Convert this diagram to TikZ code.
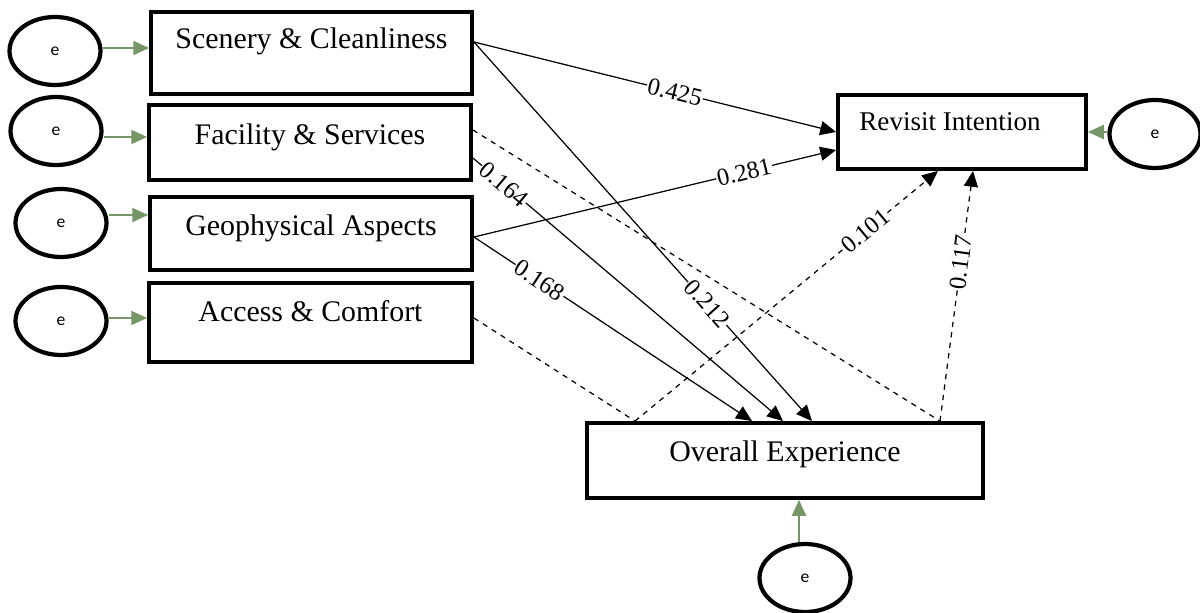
\documentclass[tikz,border=0pt]{standalone}
\usepackage{fontspec}
\setmainfont{Liberation Serif}
\newfontfamily\efont{Carlito}
\usetikzlibrary{arrows.meta,shapes.geometric,calc}
\definecolor{errgreen}{RGB}{118,150,104}
\begin{document}
\begin{tikzpicture}[
	box/.style={draw=black, line width=2.2pt, rectangle, inner sep=0pt, text height=12pt, text depth=#1, font=\fontsize{17}{20}\selectfont},
	err/.style={draw=black, line width=2.4pt, ellipse, minimum width=1.82cm, minimum height=1.36cm, inner sep=0pt, font=\efont\fontsize{10}{11}\selectfont},
	errarrow/.style={draw=errgreen, line width=1pt, -{Triangle[length=9pt,width=8pt]}},
	path/.style={draw=black, line width=0.7pt, -{Triangle[length=9pt,width=8pt]}},
	nspath/.style={draw=black, line width=0.7pt, dashed},
	coef/.style={sloped, fill=white, inner sep=0.5pt, font=\fontsize{14}{15}\selectfont}
	]
	\useasboundingbox (0,0) rectangle (24,12.24);
	\node[box=16.8pt, minimum width=6.42cm, minimum height=1.64cm] (scen) at (6.23,11.18) {Scenery \& Cleanliness};
	\node[box=9.4pt, minimum width=6.44cm, minimum height=1.50cm] (fac) at (6.20,9.39) {Facility \& Services};
	\node[box=9.4pt, minimum width=6.44cm, minimum height=1.46cm] (geo) at (6.22,7.57) {Geophysical Aspects};
	\node[box=12.8pt, minimum width=6.46cm, minimum height=1.58cm] (acc) at (6.21,5.79) {Access \& Comfort};
	\node[box=13.4pt, minimum width=4.96cm, minimum height=1.48cm, font=\fontsize{15.4}{17}\selectfont] (rev) at (19.24,9.60) {\hspace{-0.48cm}Revisit Intention};
	\node[box=11pt, minimum width=7.92cm, minimum height=1.50cm] (over) at (15.70,3.03) {Overall Experience};
	\node[err] (e1) at (1.10,11.22) {e};
	\node[err] (e2) at (1.12,9.62) {e};
	\node[err] (e3) at (1.22,7.78) {e};
	\node[err] (e4) at (1.22,5.82) {e};
	\node[err] (e5) at (23.10,9.56) {e};
	\node[err] (e6) at (16.10,0.68) {e};
	\draw[errarrow] ([yshift=0.06cm]e1.east) -- ([yshift=0.06cm]scen.west |- e1.east);
	\draw[errarrow] ([yshift=-0.12cm]e2.east) -- ([yshift=-0.12cm]fac.west |- e2.east);
	\draw[errarrow] ([yshift=0.16cm]e3.east) -- ([yshift=0.16cm]geo.west |- e3.east);
	\draw[errarrow] ([yshift=0.06cm]e4.east) -- ([yshift=0.06cm]acc.west |- e4.east);
	\draw[errarrow] ([yshift=0.04cm]e5.west) -- ([yshift=0.04cm]rev.east |- e5.west);
	\draw[errarrow] ([xshift=-0.12cm]e6.north) -- ([xshift=-0.12cm]over.south -| e6.north);
	\draw[path] ([yshift=0.22cm]scen.east) -- node[coef, pos=0.555] {0.425} (rev.west);
	\draw[path] ([yshift=-0.07cm]geo.east) -- node[coef, pos=0.746] {0.281} ([yshift=-0.36cm]rev.west);
	\draw[path] ([yshift=-0.31cm]fac.east) -- node[coef, pos=0.10] {0.164} ([xshift=-0.04cm]over.north);
	\draw[path] ([yshift=-0.07cm]geo.east) -- node[coef, pos=0.236] {0.168} ([xshift=-0.66cm]over.north);
	\draw[path] ([yshift=0.22cm]scen.east) -- node[coef, pos=0.69] {0.212} ([xshift=0.54cm]over.north);
	\draw[nspath] ([yshift=0.25cm]fac.east) -- ([xshift=3.1cm]over.north);
	\draw[nspath] ([yshift=0.09cm]acc.east) -- ([xshift=-3.0cm]over.north);
	\draw[path, dashed] ([xshift=-3.0cm]over.north) -- node[coef, pos=0.76] {0.101} ([xshift=-0.48cm]rev.south);
	\draw[path, dashed] ([xshift=3.1cm]over.north) -- node[coef, pos=0.635] {0.117} ([xshift=0.22cm]rev.south);
\end{tikzpicture}
\end{document}
